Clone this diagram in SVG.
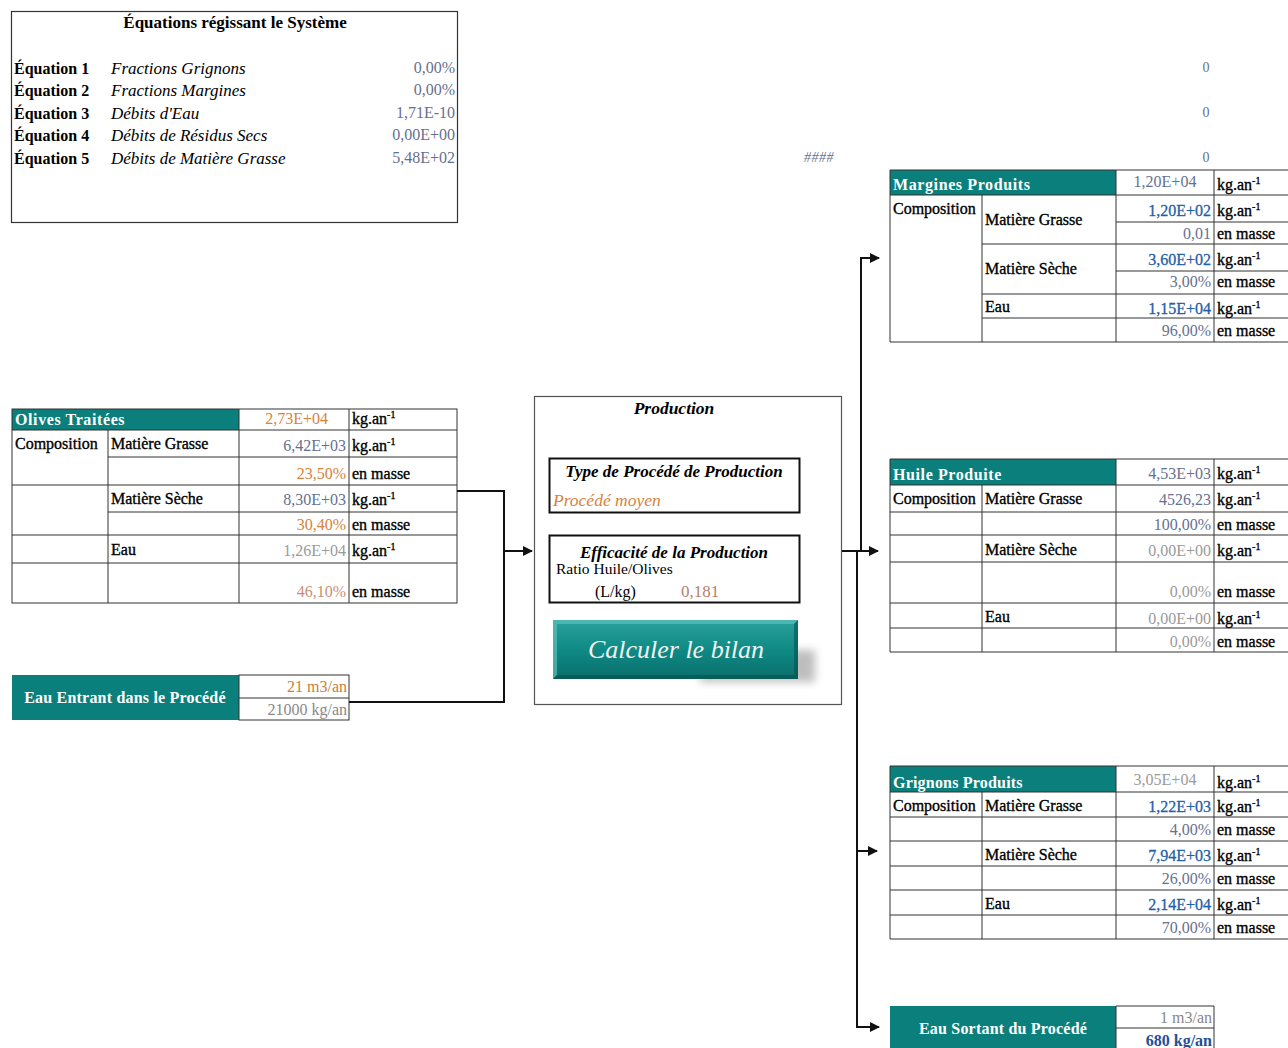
<svg xmlns="http://www.w3.org/2000/svg" width="1288" height="1048" viewBox="0 0 1288 1048">
<defs>
<style>
text{font-family:"Liberation Serif","Times New Roman",serif;font-size:16px;fill:#000}
.b{font-weight:bold}
.i{font-style:italic}
.t{stroke:#000;stroke-width:0.35}
.hd{font-weight:bold;fill:#fff;letter-spacing:0.6px}
.r{text-anchor:end}
.c{text-anchor:middle}
.gb{fill:#66708e}
.or{fill:#d8823a}
.gr{fill:#9a9a9a}
.bl{fill:#1f5fa8;stroke:#1f5fa8;stroke-width:0.3}
.sup{font-size:10px}
.box{fill:#fff;stroke:#333;stroke-width:1.2}
.ln{stroke:#333;stroke-width:1;fill:none}
.teal{fill:#0b7f7b}
.con{stroke:#111;stroke-width:2;fill:none}
.eq{font-size:17px}
</style>
<marker id="ah" viewBox="0 0 10 10" refX="9" refY="5" markerWidth="5" markerHeight="5" orient="auto" markerUnits="strokeWidth">
<path d="M0,0 L10,5 L0,10 z" fill="#111"/>
</marker>
<linearGradient id="btn" x1="0" y1="0" x2="0" y2="1">
<stop offset="0" stop-color="#2aa19c"/>
<stop offset="0.5" stop-color="#0f8a85"/>
<stop offset="1" stop-color="#0a6f6b"/>
</linearGradient>
<filter id="blur" x="-20%" y="-20%" width="140%" height="140%">
<feGaussianBlur stdDeviation="4"/>
</filter>
</defs>
<rect width="1288" height="1048" fill="#fff"/>

<g id="equations">
<rect class="box" x="11.5" y="11.5" width="446" height="211"/>
<text class="b c eq" x="235" y="28">Équations régissant le Système</text>
<text class="b" x="14" y="74">Équation 1</text>
<text class="b" x="14" y="96">Équation 2</text>
<text class="b" x="14" y="119">Équation 3</text>
<text class="b" x="14" y="141">Équation 4</text>
<text class="b" x="14" y="164">Équation 5</text>
<text class="i eq" x="111" y="74">Fractions Grignons</text>
<text class="i eq" x="111" y="96">Fractions Margines</text>
<text class="i eq" x="111" y="119">Débits d'Eau</text>
<text class="i eq" x="111" y="141">Débits de Résidus Secs</text>
<text class="i eq" x="111" y="164">Débits de Matière Grasse</text>
<text class="r gb" x="455" y="73">0,00%</text>
<text class="r gb" x="455" y="95">0,00%</text>
<text class="r gb" x="455" y="118">1,71E-10</text>
<text class="r gb" x="455" y="140">0,00E+00</text>
<text class="r gb" x="455" y="163">5,48E+02</text>
</g>

<g id="checks">
<text class="gb c" x="1206" y="72" style="font-size:14px">0</text>
<text class="gb c" x="1206" y="117" style="font-size:14px">0</text>
<text class="gb c" x="1206" y="162" style="font-size:14px">0</text>
<text class="gb" x="804" y="162" style="font-size:14px;font-style:italic;letter-spacing:0.5px">####</text>
</g>

<g id="olives">
<rect class="teal" x="12" y="409" width="227" height="21"/>
<rect class="ln" x="12" y="409" width="445" height="194"/>
<path class="ln" d="M12,430H457M108,457H457M12,485H457M108,512H457M12,535H457M12,563H457M108,430V603M239,409V603M349,409V603"/>
<text class="hd" x="15" y="425">Olives Traitées</text>
<text class="r or" x="328" y="424">2,73E+04</text>
<text class="t" x="352" y="424">kg.an<tspan class="sup" dy="-6">-1</tspan></text>
<text class="t" x="15" y="449">Composition</text>
<text class="t" x="111" y="449">Matière Grasse</text>
<text class="r gb" x="346" y="451">6,42E+03</text>
<text class="t" x="352" y="451">kg.an<tspan class="sup" dy="-6">-1</tspan></text>
<text class="r or" x="346" y="479">23,50%</text>
<text class="t" x="352" y="479">en masse</text>
<text class="t" x="111" y="504">Matière Sèche</text>
<text class="r gb" x="346" y="505">8,30E+03</text>
<text class="t" x="352" y="505">kg.an<tspan class="sup" dy="-6">-1</tspan></text>
<text class="r or" x="346" y="530">30,40%</text>
<text class="t" x="352" y="530">en masse</text>
<text class="t" x="111" y="555">Eau</text>
<text class="r gr" x="346" y="556">1,26E+04</text>
<text class="t" x="352" y="556">kg.an<tspan class="sup" dy="-6">-1</tspan></text>
<text class="r or" x="346" y="597" style="fill:#c89070">46,10%</text>
<text class="t" x="352" y="597">en masse</text>
</g>

<g id="eau-entrant">
<rect class="teal" x="12" y="675" width="227" height="45"/>
<rect class="ln" x="239" y="675" width="110" height="45"/>
<path class="ln" d="M239,698H349"/>
<text class="hd c" x="125" y="703" style="letter-spacing:0.2px">Eau Entrant dans le Procédé</text>
<text class="r or" x="347" y="692" style="fill:#c8803a">21 m3/an</text>
<text class="r gr" x="347" y="715" style="fill:#888">21000 kg/an</text>
</g>

<g id="production">
<rect class="box" x="534.5" y="396.5" width="307" height="308" style="stroke:#555"/>
<text class="b i c" x="674" y="414" style="font-size:17.5px">Production</text>
<rect x="549.5" y="458.5" width="250" height="54" fill="#fff" stroke="#111" stroke-width="2"/>
<text class="b i c" x="674" y="477" style="font-size:17px">Type de Procédé de Production</text>
<text class="i or" x="553" y="506" style="font-size:17.5px">Procédé moyen</text>
<rect x="549.5" y="535.5" width="250" height="67" fill="#fff" stroke="#111" stroke-width="2"/>
<text class="b i c" x="674" y="558" style="font-size:17px">Efficacité de la Production</text>
<text x="556" y="574" style="font-size:15.5px">Ratio Huile/Olives</text>
<text x="595" y="597">(L/kg)</text>
<text x="681" y="597" style="fill:#b87f6a;font-size:17px">0,181</text>
</g>

<g id="calculer-le-bilan">
<rect x="700" y="650" width="115" height="32" fill="#888" opacity="0.55" filter="url(#blur)"/>
<rect x="553" y="620" width="245" height="59" fill="url(#btn)"/>
<path d="M553,620H798L794,624H557V675L553,679Z" fill="#5bc0bb" opacity="0.7"/>
<path d="M798,620V679H553L557,675H794V624Z" fill="#06504d" opacity="0.6"/>
<text class="i c" x="676" y="658" style="font-size:26px;fill:#f2f2f2">Calculer le bilan</text>
</g>

<g id="margines">
<rect class="teal" x="890" y="170" width="226" height="25"/>
<path class="ln" d="M890,170H1288M890,195H1288M1116,222H1288M982,244H1288M1116,271H1288M982,294H1288M982,318H1288M890,342H1288M890,170V342M982,195V342M1116,170V342M1214,170V342"/>
<text class="hd" x="893" y="190">Margines Produits</text>
<text class="c gb" x="1165" y="187">1,20E+04</text>
<text class="t" x="1217" y="190">kg.an<tspan class="sup" dy="-6">-1</tspan></text>
<text class="t" x="893" y="214">Composition</text>
<text class="t" x="985" y="225">Matière Grasse</text>
<text class="r bl" x="1211" y="216">1,20E+02</text>
<text class="t" x="1217" y="216">kg.an<tspan class="sup" dy="-6">-1</tspan></text>
<text class="r gb" x="1211" y="239">0,01</text>
<text class="t" x="1217" y="239">en masse</text>
<text class="t" x="985" y="274">Matière Sèche</text>
<text class="r bl" x="1211" y="265">3,60E+02</text>
<text class="t" x="1217" y="265">kg.an<tspan class="sup" dy="-6">-1</tspan></text>
<text class="r gb" x="1211" y="287">3,00%</text>
<text class="t" x="1217" y="287">en masse</text>
<text class="t" x="985" y="312">Eau</text>
<text class="r bl" x="1211" y="314">1,15E+04</text>
<text class="t" x="1217" y="314">kg.an<tspan class="sup" dy="-6">-1</tspan></text>
<text class="r gb" x="1211" y="336">96,00%</text>
<text class="t" x="1217" y="336">en masse</text>
</g>

<g id="huile">
<rect class="teal" x="890" y="459" width="226" height="26"/>
<path class="ln" d="M890,459H1288M890,485H1288M890,512H1288M890,535H1288M890,562H1288M890,603H1288M890,628H1288M890,652H1288M890,459V652M982,485V652M1116,459V652M1214,459V652"/>
<text class="hd" x="893" y="480">Huile Produite</text>
<text class="r gb" x="1211" y="479">4,53E+03</text>
<text class="t" x="1217" y="479">kg.an<tspan class="sup" dy="-6">-1</tspan></text>
<text class="t" x="893" y="504">Composition</text>
<text class="t" x="985" y="504">Matière Grasse</text>
<text class="r gb" x="1211" y="505">4526,23</text>
<text class="t" x="1217" y="505">kg.an<tspan class="sup" dy="-6">-1</tspan></text>
<text class="r gb" x="1211" y="530">100,00%</text>
<text class="t" x="1217" y="530">en masse</text>
<text class="t" x="985" y="555">Matière Sèche</text>
<text class="r gr" x="1211" y="556">0,00E+00</text>
<text class="t" x="1217" y="556">kg.an<tspan class="sup" dy="-6">-1</tspan></text>
<text class="r gr" x="1211" y="597">0,00%</text>
<text class="t" x="1217" y="597">en masse</text>
<text class="t" x="985" y="622">Eau</text>
<text class="r gr" x="1211" y="624">0,00E+00</text>
<text class="t" x="1217" y="624">kg.an<tspan class="sup" dy="-6">-1</tspan></text>
<text class="r gr" x="1211" y="647">0,00%</text>
<text class="t" x="1217" y="647">en masse</text>
</g>

<g id="grignons">
<rect class="teal" x="890" y="766" width="226" height="26"/>
<path class="ln" d="M890,766H1288M890,792H1288M890,817H1288M890,841H1288M890,866H1288M890,890H1288M890,915H1288M890,939H1288M890,766V939M982,792V939M1116,766V939M1214,766V939"/>
<text class="hd" x="893" y="788" style="letter-spacing:0.2px">Grignons Produits</text>
<text class="c gr" x="1165" y="785">3,05E+04</text>
<text class="t" x="1217" y="788">kg.an<tspan class="sup" dy="-6">-1</tspan></text>
<text class="t" x="893" y="811">Composition</text>
<text class="t" x="985" y="811">Matière Grasse</text>
<text class="r bl" x="1211" y="812">1,22E+03</text>
<text class="t" x="1217" y="812">kg.an<tspan class="sup" dy="-6">-1</tspan></text>
<text class="r gb" x="1211" y="835">4,00%</text>
<text class="t" x="1217" y="835">en masse</text>
<text class="t" x="985" y="860">Matière Sèche</text>
<text class="r bl" x="1211" y="861">7,94E+03</text>
<text class="t" x="1217" y="861">kg.an<tspan class="sup" dy="-6">-1</tspan></text>
<text class="r gb" x="1211" y="884">26,00%</text>
<text class="t" x="1217" y="884">en masse</text>
<text class="t" x="985" y="909">Eau</text>
<text class="r bl" x="1211" y="910">2,14E+04</text>
<text class="t" x="1217" y="910">kg.an<tspan class="sup" dy="-6">-1</tspan></text>
<text class="r gb" x="1211" y="933">70,00%</text>
<text class="t" x="1217" y="933">en masse</text>
</g>

<g id="eau-sortant">
<rect class="teal" x="890" y="1006" width="226" height="42"/>
<path class="ln" d="M1116,1006H1214M1116,1028H1214M1116,1006V1048M1214,1006V1048"/>
<text class="hd c" x="1003" y="1034" style="letter-spacing:0.2px">Eau Sortant du Procédé</text>
<text class="r gr" x="1212" y="1023" style="fill:#888">1 m3/an</text>
<text class="r b" x="1212" y="1046" style="fill:#1f4f98">680 kg/an</text>
</g>

<g id="connectors">
<path class="con" d="M457,491H504V702H349"/>
<path class="con" d="M504,551H532" marker-end="url(#ah)"/>
<path class="con" d="M842,551H878" marker-end="url(#ah)"/>
<path class="con" d="M861,551V258H879" marker-end="url(#ah)"/>
<path class="con" d="M857,551V1027H879" marker-end="url(#ah)"/>
<path class="con" d="M857,851H877" marker-end="url(#ah)"/>
</g>
</svg>
